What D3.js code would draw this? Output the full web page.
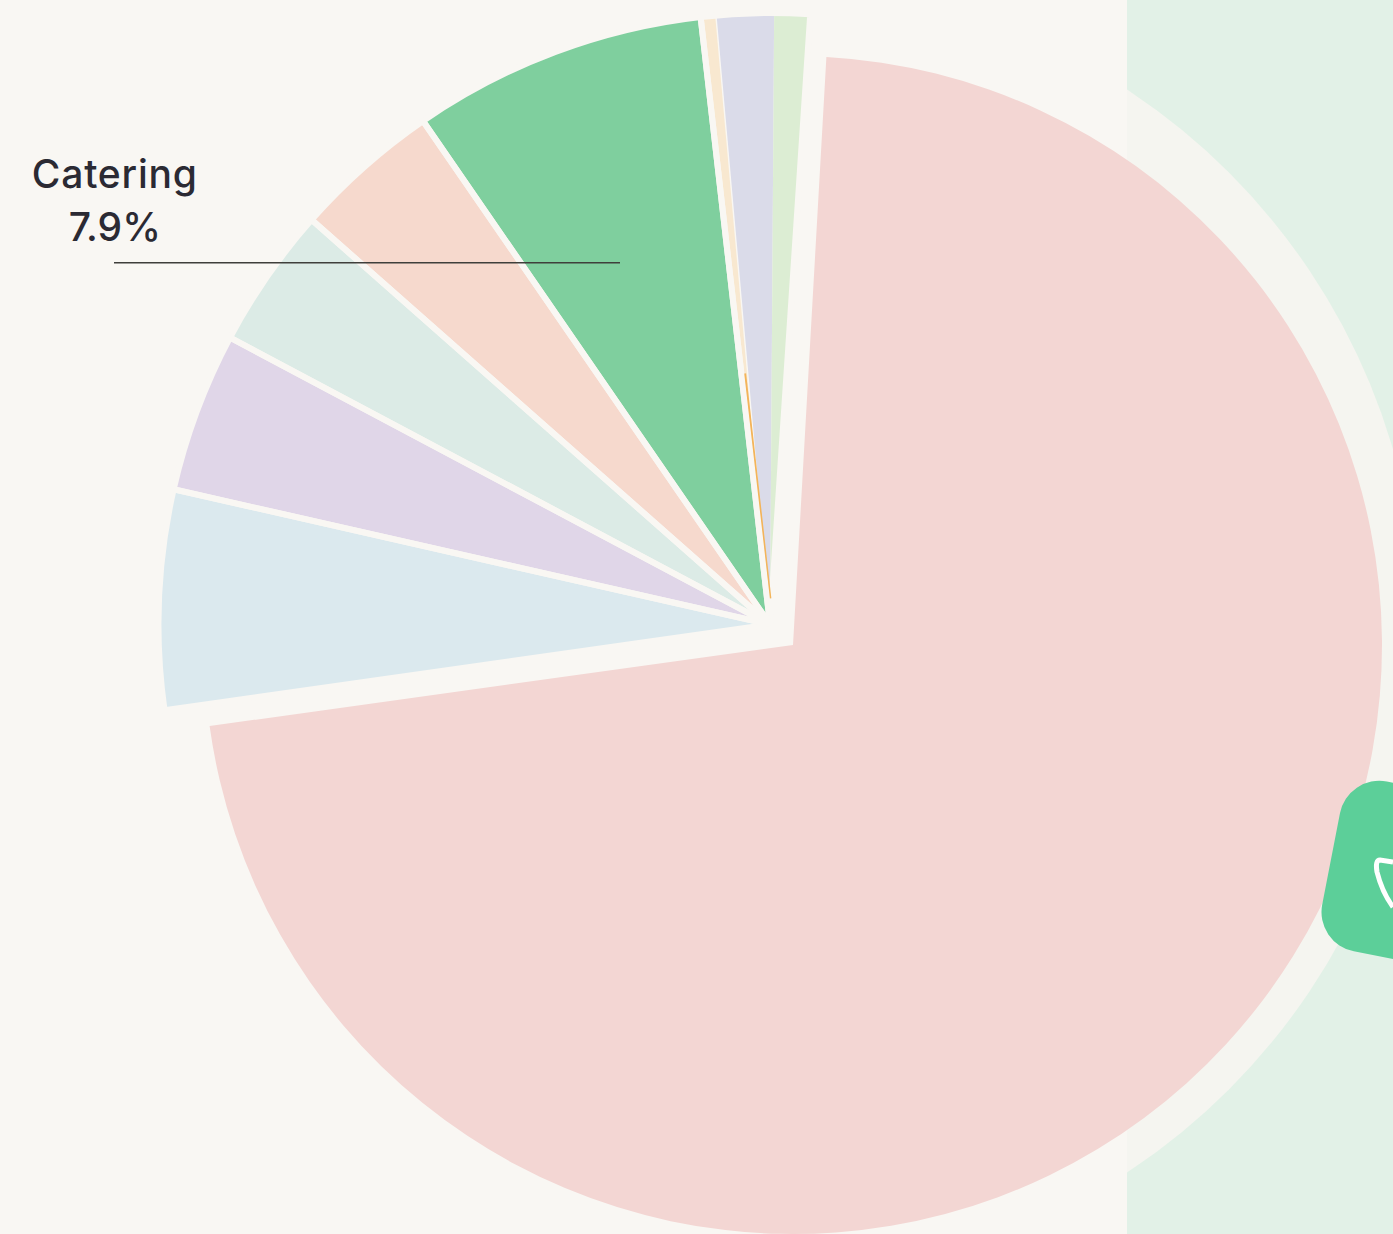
<!DOCTYPE html>
<html><head><meta charset="utf-8">
<script src="https://cdn.jsdelivr.net/npm/d3@7"></script>
<style>html,body{margin:0;padding:0;background:#f9f7f3;overflow:hidden}svg{display:block}</style>
</head><body><svg id="c" width="1393" height="1234"></svg>
<script>
const mainShare = [71.9];
const categories = ["Other A","Other B","Other C","Other D","Catering","Other E","Other F","Other G","Other H"];
const shares = [5.79,4.23,3.74,3.89,7.8,0.03,0.37,1.52,0.94];
const colors = ["#dbe9ee","#e0d6e8","#dcebe6","#f6d9cd","#7fcf9e","#f3b45a","#f8e8d0","#dadbe9","#dcedd3"];
const mainColor = "#f3d6d3";
const labelLines = ["Catering","7.9%"];
const deg = Math.PI/180;
const bg = "#f9f7f3";
const svg = d3.select("#c");

// page background panels
svg.append("rect").attr("width",1393).attr("height",1234).attr("fill",bg);
svg.append("rect").attr("x",1127).attr("width",266).attr("height",1234).attr("fill","#e2f1e7");
svg.append("defs").append("clipPath").attr("id","rp").append("rect").attr("x",1127).attr("width",266).attr("height",1234);
svg.append("circle").attr("cx",771).attr("cy",631).attr("r",648).attr("fill","#f5f5f0").attr("clip-path","url(#rp)");

// large slice
const mainStart = 3.25*deg, mainSpan = mainShare[0]*3.6*deg;
const mainArc = d3.arc().innerRadius(0).outerRadius(589);
svg.append("path").attr("transform","translate(793,645)").attr("fill",mainColor)
  .attr("d",mainArc({startAngle:mainStart,endAngle:mainStart+mainSpan}));

// exploded group of small slices
const restPie = d3.pie().value(d=>d).sort(null).startAngle(261.95*deg).endAngle(363.77*deg);
const arcs = restPie(shares);
const R = 611.5;
const restArc = d3.arc().innerRadius(0).outerRadius(R);
const g = svg.append("g").attr("transform","translate(770,624.5)");
const isSliver = d => categories[d.index]==="Other E";
g.selectAll("path.fill").data(arcs.filter(d=>!isSliver(d))).join("path").attr("class","fill")
  .attr("d",restArc).attr("fill",d=>colors[d.index]);

// separators: single slices, plus one merged outline for the last two touching slices
const byName = n => arcs[categories.indexOf(n)];
const outlines = ["Other A","Other B","Other C","Other D","Catering"].map(n=>{const a=byName(n);return {startAngle:a.startAngle,endAngle:a.endAngle};});
outlines.push({startAngle:byName("Other E").startAngle,endAngle:byName("Other H").endAngle});
g.selectAll("path.sep").data(outlines).join("path").attr("class","sep")
  .attr("d",restArc).attr("fill","none").attr("stroke",bg).attr("stroke-width",6).attr("stroke-linejoin","miter");
g.append("path").attr("d",restArc(byName("Other F"))).attr("fill","none").attr("stroke",bg).attr("stroke-width",1.4);

// thin sliver
const sliver = byName("Other E");
svg.append("path").attr("transform","translate(773.6,624.5)")
  .attr("d",d3.arc().innerRadius(27).outerRadius(252)(sliver))
  .attr("fill",colors[categories.indexOf("Other E")]).attr("stroke",colors[categories.indexOf("Other E")]).attr("stroke-width",1.4);

// label
const yLine = d3.scaleOrdinal().domain(labelLines).range([188,241]);
svg.selectAll("text.lab").data(labelLines).join("text").attr("class","lab")
  .attr("x",114.8).attr("y",d=>yLine(d)).attr("text-anchor","middle")
  .attr("font-family","Inter, 'Open Sans', sans-serif").attr("font-size",39).attr("font-weight",450)
  .attr("letter-spacing",(d,i)=>i===0?0.8:0).attr("fill","#2b2a33").text(d=>d);
svg.append("line").attr("x1",114).attr("x2",620).attr("y1",262.7).attr("y2",262.7).attr("stroke","#3f3f3b").attr("stroke-width",1.5);

// green badge
svg.append("rect").attr("transform","translate(1347.6,773.9) rotate(11)")
  .attr("width",173).attr("height",173).attr("rx",40).attr("fill","#5ccf99");
svg.append("path").attr("d","M1393,862 L1380,860 Q1375,860 1377,872 Q1382,892 1393,907")
  .attr("fill","none").attr("stroke","#fff").attr("stroke-width",5);
</script></body></html>
